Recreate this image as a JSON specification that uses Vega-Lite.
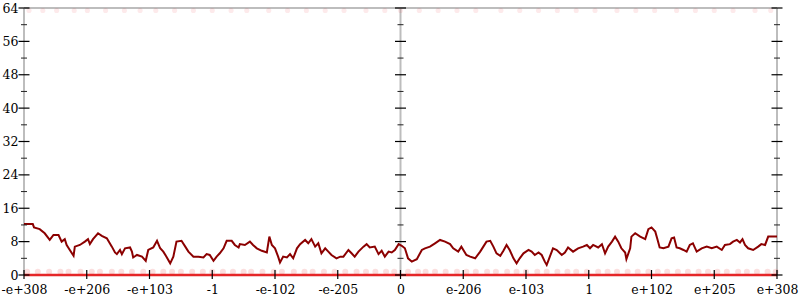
{
  "$schema": "https://vega.github.io/schema/vega-lite/v6.json",
  "width": 753,
  "height": 267,
  "autosize": {"type": "none"},
  "padding": {"left": 24, "top": 8, "right": 23, "bottom": 25},
  "config": {
    "view": {"stroke": null},
    "axis": {"labelFont": "DejaVu Serif", "labelFontSize": 12.5, "labelColor": "#000", "domain": false, "ticks": false, "grid": false, "title": null, "labelOverlap": false}
  },
  "datasets": {
    "curve": [
      {"pos": 0, "v": 12.2}, {"pos": 14, "v": 12.2}, {"pos": 16, "v": 11.4}, {"pos": 25, "v": 11}, {"pos": 33, "v": 10}, {"pos": 41, "v": 8.4}, {"pos": 47, "v": 9.6}, {"pos": 55, "v": 9.6}, {"pos": 60, "v": 8}, {"pos": 65, "v": 8.6}, {"pos": 68, "v": 7.2}, {"pos": 73, "v": 6}, {"pos": 79, "v": 4.6}, {"pos": 81, "v": 6.8}, {"pos": 89, "v": 7.2}, {"pos": 97, "v": 8}, {"pos": 102, "v": 8.6}, {"pos": 105, "v": 7.4}, {"pos": 110, "v": 8.6}, {"pos": 118, "v": 10}, {"pos": 124, "v": 9.4}, {"pos": 132, "v": 8.8}, {"pos": 140, "v": 6.8}, {"pos": 145, "v": 5.4}, {"pos": 148, "v": 5}, {"pos": 153, "v": 6}, {"pos": 156, "v": 5}, {"pos": 161, "v": 6.4}, {"pos": 169, "v": 6.6}, {"pos": 172, "v": 5.6}, {"pos": 174, "v": 4.2}, {"pos": 180, "v": 4.8}, {"pos": 188, "v": 4.4}, {"pos": 194, "v": 3.4}, {"pos": 198, "v": 6}, {"pos": 206, "v": 6.6}, {"pos": 212, "v": 8.2}, {"pos": 217, "v": 6.4}, {"pos": 222, "v": 5.6}, {"pos": 227, "v": 4.4}, {"pos": 233, "v": 2.8}, {"pos": 238, "v": 4.4}, {"pos": 243, "v": 8}, {"pos": 251, "v": 8.2}, {"pos": 257, "v": 6.8}, {"pos": 262, "v": 5.6}, {"pos": 270, "v": 4.4}, {"pos": 278, "v": 4.4}, {"pos": 286, "v": 4.2}, {"pos": 291, "v": 5}, {"pos": 296, "v": 4.8}, {"pos": 302, "v": 3.4}, {"pos": 307, "v": 4.4}, {"pos": 312, "v": 5.2}, {"pos": 318, "v": 6.4}, {"pos": 323, "v": 8.2}, {"pos": 331, "v": 8.2}, {"pos": 336, "v": 7.2}, {"pos": 342, "v": 6.6}, {"pos": 344, "v": 7.4}, {"pos": 352, "v": 7.2}, {"pos": 360, "v": 8}, {"pos": 365, "v": 7.2}, {"pos": 371, "v": 6.4}, {"pos": 379, "v": 5.8}, {"pos": 387, "v": 5.4}, {"pos": 391, "v": 9.2}, {"pos": 395, "v": 7.2}, {"pos": 400, "v": 6.4}, {"pos": 405, "v": 4.4},
      {"pos": 408, "v": 3}, {"pos": 413, "v": 4.4}, {"pos": 419, "v": 4.2}, {"pos": 424, "v": 5}, {"pos": 429, "v": 4}, {"pos": 435, "v": 6.4}, {"pos": 440, "v": 7.4}, {"pos": 448, "v": 8.4}, {"pos": 453, "v": 7.6}, {"pos": 458, "v": 8.6}, {"pos": 464, "v": 6.8}, {"pos": 469, "v": 7.6}, {"pos": 474, "v": 5.2}, {"pos": 480, "v": 6.4}, {"pos": 485, "v": 5.6}, {"pos": 490, "v": 4.8}, {"pos": 498, "v": 4}, {"pos": 504, "v": 4.4}, {"pos": 509, "v": 4.4}, {"pos": 517, "v": 6}, {"pos": 522, "v": 5.2}, {"pos": 527, "v": 4.4}, {"pos": 533, "v": 5.6}, {"pos": 541, "v": 6.8}, {"pos": 546, "v": 7.4}, {"pos": 551, "v": 6.6}, {"pos": 559, "v": 6.8}, {"pos": 565, "v": 5}, {"pos": 570, "v": 5.8}, {"pos": 575, "v": 4.4}, {"pos": 581, "v": 5.6}, {"pos": 586, "v": 5.4}, {"pos": 591, "v": 6}, {"pos": 597, "v": 7.4}, {"pos": 602, "v": 7}, {"pos": 607, "v": 6.4}, {"pos": 612, "v": 4}, {"pos": 618, "v": 3.2}, {"pos": 626, "v": 3.8}, {"pos": 634, "v": 6}, {"pos": 639, "v": 6.4}, {"pos": 647, "v": 6.8}, {"pos": 655, "v": 7.6}, {"pos": 663, "v": 8.4}, {"pos": 671, "v": 8}, {"pos": 679, "v": 7.4}, {"pos": 684, "v": 6.4}, {"pos": 692, "v": 5.6}, {"pos": 697, "v": 6.8}, {"pos": 705, "v": 4.8}, {"pos": 711, "v": 4.4}, {"pos": 719, "v": 4}, {"pos": 727, "v": 5.6}, {"pos": 732, "v": 6.8}, {"pos": 737, "v": 8}, {"pos": 743, "v": 8.2}, {"pos": 748, "v": 6.8}, {"pos": 753, "v": 5.2}, {"pos": 759, "v": 4.6}, {"pos": 764, "v": 5.8}, {"pos": 769, "v": 7.2}, {"pos": 774, "v": 6}, {"pos": 780, "v": 4}, {"pos": 785, "v": 2.8}, {"pos": 790, "v": 4},
      {"pos": 796, "v": 5.2}, {"pos": 804, "v": 6}, {"pos": 809, "v": 5.6}, {"pos": 814, "v": 4.8}, {"pos": 820, "v": 5.4}, {"pos": 825, "v": 4.8}, {"pos": 830, "v": 3.2}, {"pos": 833, "v": 2.4}, {"pos": 838, "v": 4.4}, {"pos": 843, "v": 6.4}, {"pos": 849, "v": 6}, {"pos": 857, "v": 4.8}, {"pos": 862, "v": 5.4}, {"pos": 867, "v": 6.6}, {"pos": 875, "v": 5.6}, {"pos": 883, "v": 6.4}, {"pos": 891, "v": 6.8}, {"pos": 897, "v": 7.2}, {"pos": 902, "v": 6.4}, {"pos": 907, "v": 7.2}, {"pos": 915, "v": 6.6}, {"pos": 921, "v": 7.4}, {"pos": 926, "v": 5.2}, {"pos": 931, "v": 6.8}, {"pos": 937, "v": 8}, {"pos": 942, "v": 9.2}, {"pos": 947, "v": 8}, {"pos": 952, "v": 6.4}, {"pos": 958, "v": 5.4}, {"pos": 960, "v": 3.8}, {"pos": 966, "v": 6.4}, {"pos": 968, "v": 9.2}, {"pos": 974, "v": 10}, {"pos": 982, "v": 9.2}, {"pos": 990, "v": 8.6}, {"pos": 995, "v": 11}, {"pos": 1000, "v": 11.4}, {"pos": 1006, "v": 10.4}, {"pos": 1009, "v": 8.8}, {"pos": 1013, "v": 6.6}, {"pos": 1019, "v": 6.4}, {"pos": 1027, "v": 6.8}, {"pos": 1032, "v": 8.8}, {"pos": 1036, "v": 9}, {"pos": 1040, "v": 6.6}, {"pos": 1045, "v": 6.4}, {"pos": 1051, "v": 6}, {"pos": 1056, "v": 5.6}, {"pos": 1061, "v": 7.2}, {"pos": 1066, "v": 7.6}, {"pos": 1072, "v": 5.6}, {"pos": 1080, "v": 6.4}, {"pos": 1088, "v": 6.8}, {"pos": 1096, "v": 6.4}, {"pos": 1104, "v": 6.8}, {"pos": 1112, "v": 6}, {"pos": 1117, "v": 7.2}, {"pos": 1125, "v": 7.4}, {"pos": 1130, "v": 8}, {"pos": 1136, "v": 8.4}, {"pos": 1141, "v": 7.8}, {"pos": 1145, "v": 8.6}, {"pos": 1149, "v": 7.2}, {"pos": 1154, "v": 6.4}, {"pos": 1162, "v": 6}, {"pos": 1170, "v": 6.8}, {"pos": 1175, "v": 7.4}, {"pos": 1181, "v": 7.2}, {"pos": 1186, "v": 9.2}, {"pos": 1200, "v": 9.2}
    ],
    "lowdots": [
      {"pos": 5}, {"pos": 22}, {"pos": 40}, {"pos": 58}, {"pos": 71}, {"pos": 90}, {"pos": 108}, {"pos": 121}, {"pos": 140}, {"pos": 155}, {"pos": 172}, {"pos": 190}, {"pos": 205}, {"pos": 222}, {"pos": 236}, {"pos": 250}, {"pos": 268}, {"pos": 285}, {"pos": 300}, {"pos": 317}, {"pos": 333}, {"pos": 350}, {"pos": 362}, {"pos": 380}, {"pos": 398}, {"pos": 411}, {"pos": 430}, {"pos": 447}, {"pos": 460}, {"pos": 478}, {"pos": 495}, {"pos": 512}, {"pos": 530}, {"pos": 545}, {"pos": 560}, {"pos": 577}, {"pos": 590}, {"pos": 612}, {"pos": 628}, {"pos": 640}, {"pos": 655}, {"pos": 672}, {"pos": 690}, {"pos": 705}, {"pos": 720}, {"pos": 738}, {"pos": 752}, {"pos": 770}, {"pos": 785}, {"pos": 800}, {"pos": 818}, {"pos": 833}, {"pos": 850}, {"pos": 866}, {"pos": 880}, {"pos": 897}, {"pos": 915}, {"pos": 930}, {"pos": 945}, {"pos": 962}, {"pos": 978}, {"pos": 995}, {"pos": 1010}, {"pos": 1025}, {"pos": 1042}, {"pos": 1058}, {"pos": 1075}, {"pos": 1090}, {"pos": 1105}, {"pos": 1120}, {"pos": 1138}, {"pos": 1152}, {"pos": 1168}, {"pos": 1185}, {"pos": 1198}
    ],
    "topdots": [
      {"pos": 8}, {"pos": 30}, {"pos": 52}, {"pos": 80}, {"pos": 101}, {"pos": 130}, {"pos": 160}, {"pos": 185}, {"pos": 210}, {"pos": 240}, {"pos": 270}, {"pos": 300}, {"pos": 330}, {"pos": 355}, {"pos": 390}, {"pos": 420}, {"pos": 450}, {"pos": 480}, {"pos": 510}, {"pos": 545}, {"pos": 575}, {"pos": 600}, {"pos": 630}, {"pos": 660}, {"pos": 690}, {"pos": 720}, {"pos": 760}, {"pos": 790}, {"pos": 820}, {"pos": 850}, {"pos": 880}, {"pos": 910}, {"pos": 945}, {"pos": 975}, {"pos": 1005}, {"pos": 1040}, {"pos": 1070}, {"pos": 1100}, {"pos": 1130}, {"pos": 1165}, {"pos": 1190}
    ],
    "axes": [{"pos": 0}, {"pos": 600}, {"pos": 1200}],
    "hlines": [{"v": 64, "kind": "frame"}, {"v": 0, "kind": "base"}],
    "yt": [
      {"v": 0, "kind": "major"}, {"v": 4, "kind": "minor"}, {"v": 8, "kind": "major"}, {"v": 12, "kind": "minor"}, {"v": 16, "kind": "major"}, {"v": 20, "kind": "minor"}, {"v": 24, "kind": "major"}, {"v": 28, "kind": "minor"}, {"v": 32, "kind": "major"}, {"v": 36, "kind": "minor"}, {"v": 40, "kind": "major"}, {"v": 44, "kind": "minor"}, {"v": 48, "kind": "major"}, {"v": 52, "kind": "minor"}, {"v": 56, "kind": "major"}, {"v": 60, "kind": "minor"}, {"v": 64, "kind": "major"}
    ],
    "xt": [
      {"pos": 0}, {"pos": 100}, {"pos": 200}, {"pos": 300}, {"pos": 400}, {"pos": 500}, {"pos": 600}, {"pos": 700}, {"pos": 800}, {"pos": 900}, {"pos": 1000}, {"pos": 1100}, {"pos": 1200}
    ]
  },
  "layer": [
    {
      "data": {"name": "axes"},
      "mark": {"type": "rule", "color": "#bdbdbd", "strokeWidth": 2},
      "encoding": {
        "x": {
          "field": "pos", "type": "quantitative",
          "scale": {"domain": [0, 1200], "nice": false, "zero": false},
          "axis": {
            "values": [0, 100, 200, 300, 400, 500, 600, 700, 800, 900, 1000, 1100, 1200],
            "labelExpr": "['-e+308','-e+206','-e+103','-1','-e-102','-e-205','0','e-206','e-103','1','e+102','e+205','e+308'][round(datum.value/100)]",
            "labelPadding": 8, "labelFlush": false, "labelOverlap": false, "labelBound": false
          }
        }
      }
    },
    {
      "data": {"name": "hlines"},
      "transform": [{"filter": "datum.kind == 'frame'"}],
      "mark": {"type": "rule", "color": "#bdbdbd", "strokeWidth": 2},
      "encoding": {
        "y": {
          "field": "v", "type": "quantitative",
          "scale": {"domain": [0, 64], "nice": false, "zero": true},
          "axis": {"values": [0, 8, 16, 24, 32, 40, 48, 56, 64], "labelPadding": 6}
        }
      }
    },
    {
      "data": {"name": "lowdots"},
      "mark": {"type": "circle", "color": "#e41a1c", "opacity": 0.14, "size": 36},
      "encoding": {"x": {"field": "pos", "type": "quantitative"}, "y": {"datum": 0.8, "type": "quantitative", "axis": {"values": [0, 8, 16, 24, 32, 40, 48, 56, 64], "labelPadding": 6}}}
    },
    {
      "data": {"name": "topdots"},
      "mark": {"type": "circle", "color": "#e41a1c", "opacity": 0.09, "size": 26},
      "encoding": {"x": {"field": "pos", "type": "quantitative"}, "y": {"datum": 63.4, "type": "quantitative", "axis": {"values": [0, 8, 16, 24, 32, 40, 48, 56, 64], "labelPadding": 6}}}
    },
    {
      "data": {"name": "hlines"},
      "transform": [{"filter": "datum.kind == 'base'"}],
      "mark": {"type": "rule", "color": "#e41a1c", "strokeWidth": 2.5, "opacity": 0.95},
      "encoding": {"y": {"field": "v", "type": "quantitative", "axis": {"values": [0, 8, 16, 24, 32, 40, 48, 56, 64], "labelPadding": 6}}}
    },
    {
      "data": {"name": "curve"},
      "mark": {"type": "line", "color": "#8b0000", "strokeWidth": 2},
      "encoding": {"x": {"field": "pos", "type": "quantitative"}, "y": {"field": "v", "type": "quantitative", "axis": {"values": [0, 8, 16, 24, 32, 40, 48, 56, 64], "labelPadding": 6}}}
    },
    {
      "data": {"name": "yt"},
      "transform": [{"filter": "datum.kind == 'major'"}],
      "mark": {"type": "rule", "color": "#000", "strokeWidth": 1.2, "xOffset": -5.5, "x2Offset": 5.5},
      "encoding": {
        "x": {"datum": 0, "type": "quantitative"},
        "x2": {"datum": 0},
        "y": {"field": "v", "type": "quantitative", "axis": {"values": [0, 8, 16, 24, 32, 40, 48, 56, 64], "labelPadding": 6}}
      }
    },
    {
      "data": {"name": "yt"},
      "transform": [{"filter": "datum.kind == 'minor'"}],
      "mark": {"type": "rule", "color": "#222", "strokeWidth": 1, "xOffset": -3, "x2Offset": 3},
      "encoding": {
        "x": {"datum": 0, "type": "quantitative"},
        "x2": {"datum": 0},
        "y": {"field": "v", "type": "quantitative", "axis": {"values": [0, 8, 16, 24, 32, 40, 48, 56, 64], "labelPadding": 6}}
      }
    },
    {
      "data": {"name": "yt"},
      "transform": [{"filter": "datum.kind == 'major'"}],
      "mark": {"type": "rule", "color": "#000", "strokeWidth": 1.2, "xOffset": -5.5, "x2Offset": 5.5},
      "encoding": {
        "x": {"datum": 600, "type": "quantitative"},
        "x2": {"datum": 600},
        "y": {"field": "v", "type": "quantitative", "axis": {"values": [0, 8, 16, 24, 32, 40, 48, 56, 64], "labelPadding": 6}}
      }
    },
    {
      "data": {"name": "yt"},
      "transform": [{"filter": "datum.kind == 'minor'"}],
      "mark": {"type": "rule", "color": "#222", "strokeWidth": 1, "xOffset": -3, "x2Offset": 3},
      "encoding": {
        "x": {"datum": 600, "type": "quantitative"},
        "x2": {"datum": 600},
        "y": {"field": "v", "type": "quantitative", "axis": {"values": [0, 8, 16, 24, 32, 40, 48, 56, 64], "labelPadding": 6}}
      }
    },
    {
      "data": {"name": "yt"},
      "transform": [{"filter": "datum.kind == 'major'"}],
      "mark": {"type": "rule", "color": "#000", "strokeWidth": 1.2, "xOffset": -5.5, "x2Offset": 5.5},
      "encoding": {
        "x": {"datum": 1200, "type": "quantitative"},
        "x2": {"datum": 1200},
        "y": {"field": "v", "type": "quantitative", "axis": {"values": [0, 8, 16, 24, 32, 40, 48, 56, 64], "labelPadding": 6}}
      }
    },
    {
      "data": {"name": "yt"},
      "transform": [{"filter": "datum.kind == 'minor'"}],
      "mark": {"type": "rule", "color": "#222", "strokeWidth": 1, "xOffset": -3, "x2Offset": 3},
      "encoding": {
        "x": {"datum": 1200, "type": "quantitative"},
        "x2": {"datum": 1200},
        "y": {"field": "v", "type": "quantitative", "axis": {"values": [0, 8, 16, 24, 32, 40, 48, 56, 64], "labelPadding": 6}}
      }
    },
    {
      "data": {"name": "xt"},
      "mark": {"type": "rule", "color": "#000", "strokeWidth": 1.2, "yOffset": -5, "y2Offset": 4},
      "encoding": {
        "x": {"field": "pos", "type": "quantitative"},
        "y": {"datum": 0, "type": "quantitative", "axis": {"values": [0, 8, 16, 24, 32, 40, 48, 56, 64], "labelPadding": 6}},
        "y2": {"datum": 0}
      }
    }
  ]
}
